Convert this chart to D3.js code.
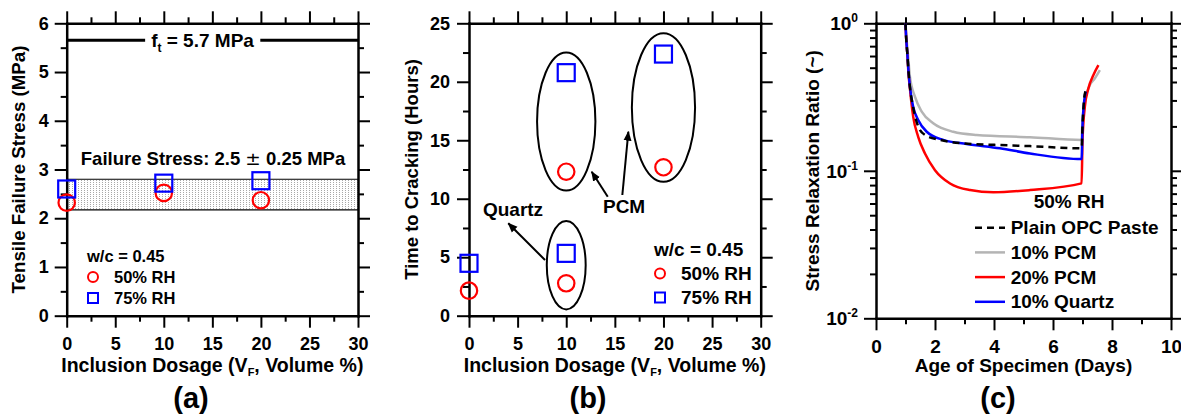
<!DOCTYPE html>
<html>
<head>
<meta charset="utf-8">
<script src="https://cdn.jsdelivr.net/npm/d3@7/dist/d3.min.js"></script>
<style>
  body { margin: 0; background: #fff; }
  svg text { font-family: "Liberation Sans", Arial, sans-serif; font-weight: bold; fill: #000; }
</style>
</head>
<body>
<svg id="fig" width="1181" height="419"></svg>
<script>
// ---- panel (a): tensile failure stress ----
const dosageA = [0, 10, 20];
const stressRH50 = [2.32, 2.52, 2.37];
const stressRH75 = [2.6, 2.72, 2.77];
const tensileStrength = 5.65;          // f_t line
const failureBand = [2.17, 2.8];       // shaded band

// ---- panel (b): time to cracking ----
const dosageB = [0, 10, 10, 20];
const crackRH50 = [2.14, 2.77, 12.31, 12.69];
const crackRH75 = [4.48, 5.33, 20.78, 22.37];
// grouping ellipses, in data units: [cx, cy, rx, ry]
const groupQuartz = [10, 4.32, 2, 3.78];
const groupPCM10 = [10, 16.6, 3, 5.9];
const groupPCM20 = [20, 17.8, 3.25, 6.35];

// ---- panel (c): stress relaxation ratio vs age (days) ----
const plainOPC = [[1.0,1.0],[1.02,0.81],[1.06,0.63],[1.1,0.48],[1.15,0.37],[1.26,0.27],[1.43,0.2],[1.66,0.175],
  [2.17,0.162],[2.85,0.154],[3.98,0.15],[5.22,0.147],[6.97,0.142],[7.0,0.2],[7.05,0.3],[7.1,0.345]];
const pcm10 = [[1.0,1.0],[1.03,0.81],[1.08,0.63],[1.15,0.435],[1.32,0.318],[1.55,0.252],[1.94,0.21],[2.62,0.184],
  [3.41,0.175],[5.22,0.169],[6.97,0.162],[6.99,0.2],[7.05,0.28],[7.14,0.335],[7.25,0.382],[7.42,0.424],[7.59,0.482]];
const pcm20 = [[1.0,1.0],[1.02,0.81],[1.06,0.63],[1.1,0.46],[1.15,0.36],[1.26,0.233],[1.43,0.17],[1.66,0.131],
  [2.0,0.101],[2.51,0.082],[3.19,0.074],[3.98,0.0715],[5.22,0.074],[6.97,0.0822],[7.0,0.16],[7.08,0.272],
  [7.2,0.362],[7.37,0.446],[7.54,0.52]];
const quartz10 = [[1.0,1.0],[1.02,0.81],[1.06,0.63],[1.1,0.48],[1.15,0.372],[1.26,0.272],[1.43,0.221],[1.72,0.184],
  [2.28,0.162],[3.07,0.152],[4.2,0.142],[5.22,0.131],[6.97,0.12],[7.0,0.2],[7.06,0.3],[7.11,0.344]];
const seriesC = [
  {name: "10% PCM", data: pcm10, color: "#b4b4b4", dash: null},
  {name: "20% PCM", data: pcm20, color: "#ff0000", dash: null},
  {name: "10% Quartz", data: quartz10, color: "#0000ff", dash: null},
  {name: "Plain OPC Paste", data: plainOPC, color: "#000", dash: "7,5"}
];
const legendOrderC = ["Plain OPC Paste", "10% PCM", "20% PCM", "10% Quartz"];

const svg = d3.select("#fig");
const defs = svg.append("defs");
defs.append("pattern").attr("id", "dots")
  .attr("width", 3).attr("height", 2).attr("patternUnits", "userSpaceOnUse")
  .append("rect").attr("width", 1).attr("height", 1).attr("fill", "#a8a8a8");
defs.append("marker").attr("id", "arrow")
  .attr("viewBox", "0 0 10 10").attr("refX", 9).attr("refY", 5)
  .attr("markerWidth", 5).attr("markerHeight", 5)
  .attr("orient", "auto")
  .append("path").attr("d", "M0,1L10,5L0,9z").attr("fill", "#000");

// one side of a boxed frame, major + minor ticks pointing out
function side(g, make, pos, major, minor, fmt, pad, fs) {
  const s = g.append("g").attr("transform", pos);
  s.append("g").call(make().tickValues(minor).tickSize(6).tickSizeOuter(0).tickFormat(""))
    .call(a => a.select(".domain").remove());
  s.append("g").call(make().tickValues(major).tickSize(12).tickSizeOuter(0)
      .tickFormat(fmt || (() => "")).tickPadding(pad || 0))
    .attr("font-size", fs || 18).attr("font-family", null);
  s.selectAll(".tick line").attr("stroke", "#000").attr("stroke-width", 2);
  s.selectAll(".domain").attr("stroke", "#000").attr("stroke-width", 2.5).attr("stroke-linecap", "square");
}

function frame(g, x, y, o) {
  const [x0, x1] = x.range(), [y0, y1] = y.range();
  side(g, () => d3.axisBottom(x), `translate(0,${y0})`, o.xMajor, o.xMinor, o.xFmt, 9.5, o.fs);
  side(g, () => d3.axisTop(x), `translate(0,${y1})`, o.xMajor, o.xMinor, null);
  side(g, () => d3.axisLeft(y), `translate(${x0},0)`, o.yMajor, o.yMinor, o.yFmt, o.yPad || 6, o.fs);
  side(g, () => d3.axisRight(y), `translate(${x1},0)`, o.yMajor, o.yMinor, null);
}

function titles(g, x, y, xt, yt, yBase, xfs, yfs) {
  const [x0, x1] = x.range(), [y0, y1] = y.range();
  const t = g.append("text").attr("x", (x0 + x1) / 2).attr("y", 372)
    .attr("text-anchor", "middle").attr("font-size", xfs);
  xt(t);
  g.append("text").attr("transform", `translate(${yBase},${(y0 + y1) / 2}) rotate(-90)`)
    .attr("text-anchor", "middle").attr("font-size", yfs).text(yt);
}

function dosageTitle(t) {
  t.append("tspan").text("Inclusion Dosage (V");
  t.append("tspan").attr("font-size", 11).attr("dy", 4).text("F");
  t.append("tspan").attr("dy", -4).text(", Volume %)");
}

function circles(g, data, xs, x, y, r) {
  g.selectAll(null).data(data).join("circle")
    .attr("cx", (d, i) => x(xs[i])).attr("cy", d => y(d)).attr("r", r)
    .attr("fill", "none").attr("stroke", "#ff0000").attr("stroke-width", 2.2);
}
function squares(g, data, xs, x, y, s) {
  g.selectAll(null).data(data).join("rect")
    .attr("x", (d, i) => x(xs[i]) - s / 2).attr("y", d => y(d) - s / 2)
    .attr("width", s).attr("height", s)
    .attr("fill", "none").attr("stroke", "#0000ff").attr("stroke-width", 2.2);
}

function rhLegend(g, lx, ly, fs, step, gap) {
  const c = fs * 0.36;
  g.append("text").attr("x", lx - 6).attr("y", ly + c).attr("font-size", fs).text("w/c = 0.45");
  g.append("circle").attr("cx", lx).attr("cy", ly + step).attr("r", 5)
    .attr("fill", "none").attr("stroke", "#ff0000").attr("stroke-width", 2);
  g.append("text").attr("x", lx + gap).attr("y", ly + step + c).attr("font-size", fs).text("50% RH");
  g.append("rect").attr("x", lx - 5).attr("y", ly + 2 * step - 5).attr("width", 10).attr("height", 10)
    .attr("fill", "none").attr("stroke", "#0000ff").attr("stroke-width", 2);
  g.append("text").attr("x", lx + gap).attr("y", ly + 2 * step + c).attr("font-size", fs).text("75% RH");
}

// ================= panel (a) =================
const xa = d3.scaleLinear().domain([0, 30]).range([66.7, 358]);
const ya = d3.scaleLinear().domain([0, 6]).range([315.7, 23.3]);
const ga = svg.append("g");

ga.append("rect").attr("x", xa(0)).attr("y", ya(failureBand[1]))
  .attr("width", xa(30) - xa(0)).attr("height", ya(failureBand[0]) - ya(failureBand[1]))
  .attr("fill", "url(#dots)");
failureBand.forEach(v => ga.append("line")
  .attr("x1", xa(0)).attr("x2", xa(30)).attr("y1", ya(v)).attr("y2", ya(v))
  .attr("stroke", "#000").attr("stroke-width", 1.2));

const ftText = ga.append("text").attr("x", 202.5).attr("y", ya(tensileStrength) + 7)
  .attr("text-anchor", "middle").attr("font-size", 19);
ftText.append("tspan").text("f");
ftText.append("tspan").attr("font-size", 12).attr("dy", 5).text("t");
ftText.append("tspan").attr("dy", -5).text(" = 5.7 MPa");
const fb = ftText.node().getBBox();
[[xa(0), fb.x - 6], [fb.x + fb.width + 6, xa(30)]].forEach(([a, b]) =>
  ga.append("line").attr("x1", a).attr("x2", b)
    .attr("y1", ya(tensileStrength)).attr("y2", ya(tensileStrength))
    .attr("stroke", "#000").attr("stroke-width", 3));

const fsText = ga.append("text").attr("x", 213).attr("y", 165)
  .attr("text-anchor", "middle").attr("font-size", 18.5);
fsText.append("tspan").text("Failure Stress: 2.5 ");
fsText.append("tspan").attr("font-weight", "normal").attr("font-family", "DejaVu Sans").text("±");
fsText.append("tspan").text(" 0.25 MPa");

frame(ga, xa, ya, {
  xMajor: d3.range(0, 31, 5), xMinor: d3.range(2.5, 30, 5), xFmt: d3.format("d"),
  yMajor: d3.range(0, 7, 1), yMinor: d3.range(0.5, 6, 1), yFmt: d3.format("d")
});
circles(ga, stressRH50, dosageA, xa, ya, 8.2);
squares(ga, stressRH75, dosageA, xa, ya, 17);
rhLegend(ga, 93, 256, 16.5, 21, 21);
titles(ga, xa, ya, dosageTitle, "Tensile Failure Stress (MPa)", 25, 19.5, 18.7);
ga.append("text").attr("x", 191).attr("y", 408).attr("text-anchor", "middle")
  .attr("font-size", 29).text("(a)");

// ================= panel (b) =================
const xb = d3.scaleLinear().domain([0, 30]).range([469, 760.7]);
const yb = d3.scaleLinear().domain([0, 25]).range([315.7, 23.3]);
const gb = svg.append("g");

[groupQuartz, groupPCM10, groupPCM20].forEach(([cx, cy, rx, ry]) =>
  gb.append("ellipse").attr("cx", xb(cx)).attr("cy", yb(cy))
    .attr("rx", xb(cx + rx) - xb(cx)).attr("ry", yb(cy - ry) - yb(cy))
    .attr("fill", "none").attr("stroke", "#000").attr("stroke-width", 2));

gb.append("text").attr("x", xb(4.53)).attr("y", yb(9.12) + 6.8)
  .attr("text-anchor", "middle").attr("font-size", 19).text("Quartz");
gb.append("text").attr("x", xb(15.95)).attr("y", yb(9.32) + 6.8)
  .attr("text-anchor", "middle").attr("font-size", 19).text("PCM");
// arrows: [x1, y1, x2, y2] in data units
[[7.82, 4.76, 4.04, 7.9], [14.27, 10.17, 12.62, 12.31], [15.77, 10.32, 16.39, 15.73]].forEach(a =>
  gb.append("line").attr("x1", xb(a[0])).attr("y1", yb(a[1])).attr("x2", xb(a[2])).attr("y2", yb(a[3]))
    .attr("stroke", "#000").attr("stroke-width", 2).attr("marker-end", "url(#arrow)"));

frame(gb, xb, yb, {
  xMajor: d3.range(0, 31, 5), xMinor: d3.range(2.5, 30, 5), xFmt: d3.format("d"),
  yMajor: d3.range(0, 26, 5), yMinor: d3.range(2.5, 25, 5), yFmt: d3.format("d"), yPad: 7
});
circles(gb, crackRH50, dosageB, xb, yb, 8.2);
squares(gb, crackRH75, dosageB, xb, yb, 17);
rhLegend(gb, 660, 249.5, 19, 24, 21);
titles(gb, xb, yb, dosageTitle, "Time to Cracking (Hours)", 417.5, 19.5, 18.5);
gb.append("text").attr("x", 588).attr("y", 408).attr("text-anchor", "middle")
  .attr("font-size", 29).text("(b)");

// ================= panel (c) =================
const xc = d3.scaleLinear().domain([0, 10]).range([876, 1171]);
const yc = d3.scaleLog().domain([0.01, 1]).range([318.3, 23.3]);
const gc = svg.append("g");

const yMinorC = [];
[0.01, 0.1].forEach(b => d3.range(2, 10).forEach(k => yMinorC.push(b * k)));
frame(gc, xc, yc, {
  xMajor: d3.range(0, 11, 2), xMinor: d3.range(1, 10, 2), xFmt: d3.format("d"),
  yMajor: [0.01, 0.1, 1], yMinor: yMinorC, yFmt: null, fs: 19
});
[[1, "0"], [0.1, "-1"], [0.01, "-2"]].forEach(([v, e]) => {
  const t = gc.append("text").attr("x", xc(0) - 18).attr("y", yc(v) + 7)
    .attr("text-anchor", "end").attr("font-size", 19);
  t.append("tspan").text("10");
  t.append("tspan").attr("font-size", 12).attr("dy", -8).text(e);
});

const line = d3.line().x(d => xc(d[0])).y(d => yc(d[1])).curve(d3.curveMonotoneX);
seriesC.forEach(s => gc.append("path").attr("d", line(s.data))
  .attr("fill", "none").attr("stroke", s.color).attr("stroke-width", 2.5)
  .attr("stroke-dasharray", s.dash));

gc.append("text").attr("x", 1069).attr("y", 208).attr("text-anchor", "middle")
  .attr("font-size", 19).text("50% RH");
legendOrderC.forEach((n, i) => {
  const s = seriesC.find(d => d.name === n);
  const ly = 227.7 + i * 24.7;
  gc.append("line").attr("x1", 975).attr("x2", 1005).attr("y1", ly).attr("y2", ly)
    .attr("stroke", s.color).attr("stroke-width", 2.5).attr("stroke-dasharray", s.dash);
  gc.append("text").attr("x", 1010.7).attr("y", ly + 6.5).attr("font-size", 19).text(n);
});
titles(gc, xc, yc, t => t.text("Age of Specimen (Days)"), "Stress Relaxation Ratio (~)", 819, 19, 19);
gc.append("text").attr("x", 998).attr("y", 408).attr("text-anchor", "middle")
  .attr("font-size", 29).text("(c)");
</script>
</body>
</html>
